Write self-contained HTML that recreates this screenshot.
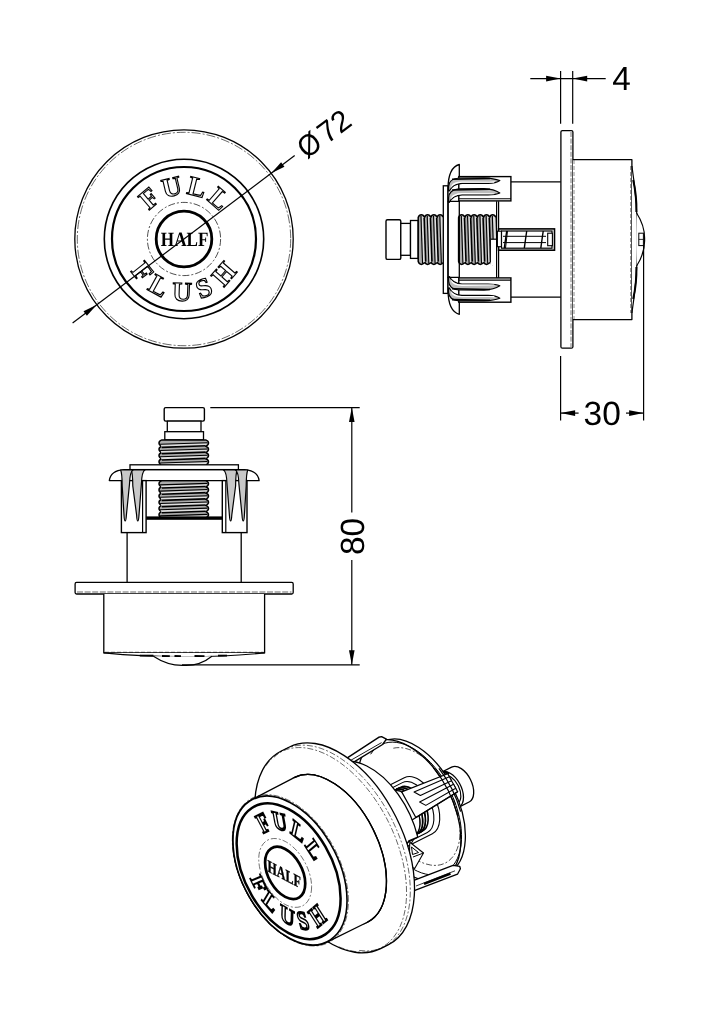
<!DOCTYPE html>
<html><head><meta charset="utf-8"><title>Flush button drawing</title>
<style>
html,body{margin:0;padding:0;background:#fff;}
svg{display:block;filter:grayscale(1);}
text{font-family:"Liberation Sans",sans-serif;text-rendering:geometricPrecision;}
.ser{font-family:"Liberation Serif",serif;}
</style></head><body>
<svg width="724" height="1024" viewBox="0 0 724 1024">
<rect x="0" y="0" width="724" height="1024" fill="#fff"/>
<circle cx="184.00" cy="239.00" r="109.20" fill="none" stroke="#000" stroke-width="1.3" />
<circle cx="184.00" cy="239.00" r="106.70" fill="none" stroke="#000" stroke-width="0.6" stroke-dasharray="9 2 2 2"/>
<circle cx="184.00" cy="239.00" r="79.70" fill="none" stroke="#000" stroke-width="1.6" />
<circle cx="184.00" cy="239.00" r="72.00" fill="none" stroke="#000" stroke-width="2.2" />
<circle cx="184.00" cy="239.00" r="36.60" fill="none" stroke="#000" stroke-width="0.7" stroke-dasharray="7 2 2 2"/>
<circle cx="184.00" cy="239.00" r="27.80" fill="none" stroke="#000" stroke-width="2.8" />
<text class="ser" x="184.0" y="194.5" font-size="27.2" text-anchor="middle" transform="rotate(-40.5 184.0 239.0)" fill="#fff" stroke="#000" stroke-width="1.15" font-weight="bold">F</text>
<text class="ser" x="184.0" y="194.5" font-size="27.2" text-anchor="middle" transform="rotate(-13.4 184.0 239.0)" fill="#fff" stroke="#000" stroke-width="1.15" font-weight="bold">U</text>
<text class="ser" x="184.0" y="194.5" font-size="27.2" text-anchor="middle" transform="rotate(13.9 184.0 239.0)" fill="#fff" stroke="#000" stroke-width="1.15" font-weight="bold">L</text>
<text class="ser" x="184.0" y="194.5" font-size="27.2" text-anchor="middle" transform="rotate(41.0 184.0 239.0)" fill="#fff" stroke="#000" stroke-width="1.15" font-weight="bold">L</text>
<text class="ser" x="184.0" y="301.0" font-size="27.2" text-anchor="middle" transform="rotate(51.5 184.0 239.0)" fill="#fff" stroke="#000" stroke-width="1.15" font-weight="bold">F</text>
<text class="ser" x="184.0" y="301.0" font-size="27.2" text-anchor="middle" transform="rotate(28.5 184.0 239.0)" fill="#fff" stroke="#000" stroke-width="1.15" font-weight="bold">L</text>
<text class="ser" x="184.0" y="301.0" font-size="27.2" text-anchor="middle" transform="rotate(2.0 184.0 239.0)" fill="#fff" stroke="#000" stroke-width="1.15" font-weight="bold">U</text>
<text class="ser" x="184.0" y="301.0" font-size="27.2" text-anchor="middle" transform="rotate(-22.0 184.0 239.0)" fill="#fff" stroke="#000" stroke-width="1.15" font-weight="bold">S</text>
<text class="ser" x="184.0" y="301.0" font-size="27.2" text-anchor="middle" transform="rotate(-49.0 184.0 239.0)" fill="#fff" stroke="#000" stroke-width="1.15" font-weight="bold">H</text>
<text class="ser" x="184.6" y="246.2" font-size="20.4" font-weight="bold" text-anchor="middle" textLength="47.5" lengthAdjust="spacingAndGlyphs" fill="#000">HALF</text>
<line x1="72.60" y1="322.96" x2="294.70" y2="155.57" stroke="#000" stroke-width="1.2" />
<polygon points="96.80,304.73 86.90,315.69 83.53,311.22" fill="#000"/>
<polygon points="271.20,173.27 281.10,162.31 284.47,166.78" fill="#000"/>
<g transform="translate(306.8 159.6) rotate(-37.01)"><text x="0" y="0" font-size="30" transform="scale(0.93 1)">Ø</text><text x="25.2" y="0" font-size="30">72</text></g>
<line x1="511.00" y1="181.90" x2="560.90" y2="181.90" stroke="#000" stroke-width="1.25" />
<line x1="511.00" y1="297.00" x2="560.90" y2="297.00" stroke="#000" stroke-width="1.25" />
<rect x="560.90" y="130.60" width="12.00" height="217.60" rx="1.5" fill="#fff" stroke="#000" stroke-width="1.3" />
<line x1="571.00" y1="132.00" x2="571.00" y2="347.00" stroke="#000" stroke-width="0.55" stroke-dasharray="5 1.6"/>
<path d="M572.9,159.7 L631.9,159.7 L631.9,319.6 L572.9,319.6" fill="#fff" stroke="#000" stroke-width="1.3" stroke-linejoin="round" />
<line x1="574.00" y1="160.00" x2="574.00" y2="319.00" stroke="#000" stroke-width="0.45" stroke-dasharray="4 2"/>
<line x1="630.60" y1="166.00" x2="630.60" y2="313.00" stroke="#000" stroke-width="0.45" stroke-dasharray="4 2"/>
<path d="M631.9,166 Q637.6,203 637.4,239.4 Q637.6,276 631.9,313" fill="#fff" stroke="#000" stroke-width="1.2" stroke-linejoin="round" />
<path d="M633.2,180 Q636.8,196 636.4,212" fill="none" stroke="#000" stroke-width="2.0" stroke-linejoin="round" />
<path d="M633.2,299 Q636.8,283 636.4,267" fill="none" stroke="#000" stroke-width="2.0" stroke-linejoin="round" />
<path d="M636.6,213 Q645,226 644.6,239.4 Q645,253 636.6,266" fill="#fff" stroke="#000" stroke-width="1.2" stroke-linejoin="round" />
<rect x="638.80" y="233.20" width="4.60" height="12.40" rx="0" fill="#fff" stroke="#000" stroke-width="1.0" />
<line x1="638.80" y1="239.40" x2="643.40" y2="239.40" stroke="#000" stroke-width="0.8" />
<rect x="386.00" y="219.70" width="14.80" height="39.70" rx="1.5" fill="#fff" stroke="#000" stroke-width="1.4" />
<rect x="400.80" y="223.40" width="9.70" height="31.90" rx="0" fill="#fff" stroke="#000" stroke-width="1.3" />
<rect x="410.50" y="220.50" width="7.70" height="37.90" rx="0" fill="#fff" stroke="#000" stroke-width="1.3" />
<path d="M418.20,217.60 Q419.14,214.80 421.34,214.80 Q423.53,214.80 424.48,217.60 Q425.42,214.80 427.61,214.80 Q429.81,214.80 430.75,217.60 Q431.69,214.80 433.89,214.80 Q436.08,214.80 437.02,217.60 Q437.97,214.80 440.16,214.80 Q442.36,214.80 443.30,217.60 L443.30,261.60 Q442.36,264.40 440.16,264.40 Q437.97,264.40 437.02,261.60 Q436.08,264.40 433.89,264.40 Q431.69,264.40 430.75,261.60 Q429.81,264.40 427.61,264.40 Q425.42,264.40 424.48,261.60 Q423.53,264.40 421.34,264.40 Q419.14,264.40 418.20,261.60 Z" fill="#ababab" stroke="#000" stroke-width="1.5" stroke-linejoin="round" />
<path d="M421.65,216.40 L424.16,217.40 L425.36,261.80 L422.85,262.80 Z" fill="#dedede"/>
<line x1="420.98" y1="215.90" x2="422.54" y2="263.30" stroke="#000" stroke-width="1.1" />
<path d="M427.93,216.40 L430.44,217.40 L431.64,261.80 L429.13,262.80 Z" fill="#dedede"/>
<line x1="424.12" y1="217.60" x2="425.68" y2="261.60" stroke="#000" stroke-width="1.6" />
<line x1="427.25" y1="215.90" x2="428.81" y2="263.30" stroke="#000" stroke-width="1.1" />
<path d="M434.20,216.40 L436.71,217.40 L437.91,261.80 L435.40,262.80 Z" fill="#dedede"/>
<line x1="430.39" y1="217.60" x2="431.95" y2="261.60" stroke="#000" stroke-width="1.6" />
<line x1="433.53" y1="215.90" x2="435.09" y2="263.30" stroke="#000" stroke-width="1.1" />
<path d="M440.48,216.40 L442.99,217.40 L444.19,261.80 L441.68,262.80 Z" fill="#dedede"/>
<line x1="436.66" y1="217.60" x2="438.22" y2="261.60" stroke="#000" stroke-width="1.6" />
<line x1="439.80" y1="215.90" x2="441.36" y2="263.30" stroke="#000" stroke-width="1.1" />
<path d="M458.60,217.60 Q459.53,214.80 461.70,214.80 Q463.87,214.80 464.80,217.60 Q465.73,214.80 467.90,214.80 Q470.07,214.80 471.00,217.60 Q471.93,214.80 474.10,214.80 Q476.27,214.80 477.20,217.60 Q478.13,214.80 480.30,214.80 Q482.47,214.80 483.40,217.60 Q484.33,214.80 486.50,214.80 Q488.67,214.80 489.60,217.60 Q490.53,214.80 492.70,214.80 Q494.87,214.80 495.80,217.60 L495.80,261.60 Q494.87,264.40 492.70,264.40 Q490.53,264.40 489.60,261.60 Q488.67,264.40 486.50,264.40 Q484.33,264.40 483.40,261.60 Q482.47,264.40 480.30,264.40 Q478.13,264.40 477.20,261.60 Q476.27,264.40 474.10,264.40 Q471.93,264.40 471.00,261.60 Q470.07,264.40 467.90,264.40 Q465.73,264.40 464.80,261.60 Q463.87,264.40 461.70,264.40 Q459.53,264.40 458.60,261.60 Z" fill="#ababab" stroke="#000" stroke-width="1.5" stroke-linejoin="round" />
<path d="M462.01,216.40 L464.49,217.40 L465.69,261.80 L463.21,262.80 Z" fill="#dedede"/>
<line x1="461.34" y1="215.90" x2="462.90" y2="263.30" stroke="#000" stroke-width="1.1" />
<path d="M468.21,216.40 L470.69,217.40 L471.89,261.80 L469.41,262.80 Z" fill="#dedede"/>
<line x1="464.44" y1="217.60" x2="466.00" y2="261.60" stroke="#000" stroke-width="1.6" />
<line x1="467.54" y1="215.90" x2="469.10" y2="263.30" stroke="#000" stroke-width="1.1" />
<path d="M474.41,216.40 L476.89,217.40 L478.09,261.80 L475.61,262.80 Z" fill="#dedede"/>
<line x1="470.64" y1="217.60" x2="472.20" y2="261.60" stroke="#000" stroke-width="1.6" />
<line x1="473.74" y1="215.90" x2="475.30" y2="263.30" stroke="#000" stroke-width="1.1" />
<path d="M480.61,216.40 L483.09,217.40 L484.29,261.80 L481.81,262.80 Z" fill="#dedede"/>
<line x1="476.84" y1="217.60" x2="478.40" y2="261.60" stroke="#000" stroke-width="1.6" />
<line x1="479.94" y1="215.90" x2="481.50" y2="263.30" stroke="#000" stroke-width="1.1" />
<path d="M486.81,216.40 L489.29,217.40 L490.49,261.80 L488.01,262.80 Z" fill="#dedede"/>
<line x1="483.04" y1="217.60" x2="484.60" y2="261.60" stroke="#000" stroke-width="1.6" />
<line x1="486.14" y1="215.90" x2="487.70" y2="263.30" stroke="#000" stroke-width="1.1" />
<path d="M493.01,216.40 L495.49,217.40 L496.69,261.80 L494.21,262.80 Z" fill="#dedede"/>
<line x1="489.24" y1="217.60" x2="490.80" y2="261.60" stroke="#000" stroke-width="1.6" />
<line x1="492.34" y1="215.90" x2="493.90" y2="263.30" stroke="#000" stroke-width="1.1" />
<rect x="490.3" y="239.2" width="7" height="26" fill="#fff"/>
<line x1="490.30" y1="239.20" x2="496.40" y2="239.20" stroke="#000" stroke-width="1.2" />
<line x1="490.30" y1="239.20" x2="490.30" y2="262.50" stroke="#000" stroke-width="1.2" />
<line x1="496.60" y1="201.30" x2="496.60" y2="278.00" stroke="#000" stroke-width="1.2" />
<line x1="498.60" y1="201.30" x2="498.60" y2="278.00" stroke="#000" stroke-width="1.2" />
<rect x="498.60" y="228.90" width="55.90" height="21.30" rx="0" fill="#fff" stroke="#000" stroke-width="1.6" />
<rect x="501.50" y="231.00" width="50.50" height="17.20" rx="0" fill="#fff" stroke="#000" stroke-width="1.2" />
<line x1="503.00" y1="236.30" x2="546.00" y2="236.30" stroke="#000" stroke-width="1.0" />
<line x1="503.00" y1="242.60" x2="546.00" y2="242.60" stroke="#000" stroke-width="1.0" />
<line x1="506.70" y1="231.00" x2="504.30" y2="248.20" stroke="#000" stroke-width="1.4" />
<line x1="526.70" y1="231.00" x2="524.30" y2="248.20" stroke="#000" stroke-width="1.4" />
<line x1="543.20" y1="231.00" x2="540.80" y2="248.20" stroke="#000" stroke-width="1.4" />
<line x1="507.50" y1="231.00" x2="505.50" y2="248.20" stroke="#000" stroke-width="1.0" />
<rect x="547.70" y="233.20" width="4.70" height="12.50" rx="0" fill="#fff" stroke="#000" stroke-width="1.1" />
<rect x="497.40" y="231.20" width="4.00" height="15.50" rx="0" fill="#fff" stroke="#000" stroke-width="1.1" />
<rect x="443.30" y="185.80" width="4.70" height="107.60" rx="0" fill="#fff" stroke="#000" stroke-width="1.3" />
<path d="M459.3,164.50 Q448.2,167.50 448.0,188.50 L448.0,201.40 L459.3,201.40 Z" fill="#fff" stroke="#000" stroke-width="1.3" stroke-linejoin="round" />
<path d="M459.3,314.30 Q448.2,311.30 448.0,290.30 L448.0,277.40 L459.3,277.40 Z" fill="#fff" stroke="#000" stroke-width="1.3" stroke-linejoin="round" />
<line x1="448.00" y1="201.30" x2="448.00" y2="278.00" stroke="#000" stroke-width="1.3" />
<line x1="459.30" y1="201.30" x2="459.30" y2="278.00" stroke="#000" stroke-width="1.3" />
<rect x="458.80" y="176.60" width="52.10" height="24.30" rx="0" fill="#fff" stroke="#000" stroke-width="1.4" />
<line x1="458.80" y1="198.70" x2="510.90" y2="198.70" stroke="#000" stroke-width="1.1" />
<path d="M448.6,186.40 Q449.0,178.80 458.8,178.00 L484,177.90 Q494,178.40 499.8,180.60 Q496,183.40 488,183.40 L462,183.40 Q452.5,184.00 449.4,190.90 L448.6,190.90 Z" fill="#bdbdbd" stroke="#000" stroke-width="1.2" stroke-linejoin="round" />
<path d="M451.5,185.40 Q453.5,181.80 462,181.50 L489,181.80 L495,181.20 L494,182.80 L462,182.80 Q454,183.20 451.0,187.90 Z" fill="#fff" stroke="none"/>
<line x1="452.00" y1="179.20" x2="490.00" y2="178.50" stroke="#000" stroke-width="1.6" />
<path d="M448.6,197.80 Q449.0,189.60 458.8,188.80 L484,188.70 Q494,189.20 499.8,193.00 Q496,194.80 488,194.80 L462,194.80 Q452.5,195.40 449.4,202.30 L448.6,202.30 Z" fill="#bdbdbd" stroke="#000" stroke-width="1.2" stroke-linejoin="round" />
<path d="M451.5,196.80 Q453.5,193.20 462,192.90 L489,193.20 L495,193.60 L494,194.20 L462,194.20 Q454,194.60 451.0,199.30 Z" fill="#fff" stroke="none"/>
<line x1="452.00" y1="190.00" x2="490.00" y2="189.30" stroke="#000" stroke-width="1.6" />
<g transform="translate(0 478.8) scale(1 -1)">
<rect x="458.80" y="176.60" width="52.10" height="24.30" rx="0" fill="#fff" stroke="#000" stroke-width="1.4" />
<line x1="458.80" y1="198.70" x2="510.90" y2="198.70" stroke="#000" stroke-width="1.1" />
<path d="M448.6,186.40 Q449.0,178.80 458.8,178.00 L484,177.90 Q494,178.40 499.8,180.60 Q496,183.40 488,183.40 L462,183.40 Q452.5,184.00 449.4,190.90 L448.6,190.90 Z" fill="#bdbdbd" stroke="#000" stroke-width="1.2" stroke-linejoin="round" />
<path d="M451.5,185.40 Q453.5,181.80 462,181.50 L489,181.80 L495,181.20 L494,182.80 L462,182.80 Q454,183.20 451.0,187.90 Z" fill="#fff" stroke="none"/>
<line x1="452.00" y1="179.20" x2="490.00" y2="178.50" stroke="#000" stroke-width="1.6" />
<path d="M448.6,197.80 Q449.0,189.60 458.8,188.80 L484,188.70 Q494,189.20 499.8,193.00 Q496,194.80 488,194.80 L462,194.80 Q452.5,195.40 449.4,202.30 L448.6,202.30 Z" fill="#bdbdbd" stroke="#000" stroke-width="1.2" stroke-linejoin="round" />
<path d="M451.5,196.80 Q453.5,193.20 462,192.90 L489,193.20 L495,193.60 L494,194.20 L462,194.20 Q454,194.60 451.0,199.30 Z" fill="#fff" stroke="none"/>
<line x1="452.00" y1="190.00" x2="490.00" y2="189.30" stroke="#000" stroke-width="1.6" />
</g>
<line x1="560.60" y1="71.00" x2="560.60" y2="123.80" stroke="#000" stroke-width="1.2" />
<line x1="572.70" y1="71.00" x2="572.70" y2="123.80" stroke="#000" stroke-width="1.2" />
<line x1="530.30" y1="78.60" x2="572.70" y2="78.60" stroke="#000" stroke-width="1.2" />
<line x1="572.70" y1="78.60" x2="605.70" y2="78.60" stroke="#000" stroke-width="1.2" />
<polygon points="560.60,78.60 546.10,81.40 546.10,75.80" fill="#000"/>
<polygon points="572.70,78.60 587.20,75.80 587.20,81.40" fill="#000"/>
<text x="612.2" y="89.9" font-size="33.3">4</text>
<line x1="560.60" y1="356.00" x2="560.60" y2="420.60" stroke="#000" stroke-width="1.2" />
<line x1="643.60" y1="245.00" x2="643.60" y2="420.60" stroke="#000" stroke-width="1.2" />
<line x1="560.60" y1="413.10" x2="578.60" y2="413.10" stroke="#000" stroke-width="1.2" />
<line x1="626.00" y1="413.10" x2="643.60" y2="413.10" stroke="#000" stroke-width="1.2" />
<polygon points="560.60,413.10 575.10,410.30 575.10,415.90" fill="#000"/>
<polygon points="643.60,413.10 629.10,415.90 629.10,410.30" fill="#000"/>
<text x="602.2" y="424.5" font-size="33.5" text-anchor="middle">30</text>
<rect x="164.20" y="407.60" width="40.20" height="13.50" rx="1.5" fill="#fff" stroke="#000" stroke-width="1.4" />
<rect x="167.30" y="421.10" width="33.70" height="10.60" rx="0" fill="#fff" stroke="#000" stroke-width="1.3" />
<rect x="164.80" y="431.70" width="38.70" height="8.20" rx="0" fill="#fff" stroke="#000" stroke-width="1.3" />
<path d="M205.70,439.90 Q208.50,440.84 208.50,443.04 Q208.50,445.23 205.70,446.17 Q208.50,447.12 208.50,449.31 Q208.50,451.51 205.70,452.45 Q208.50,453.39 208.50,455.59 Q208.50,457.78 205.70,458.73 Q208.50,459.67 208.50,461.86 Q208.50,464.06 205.70,465.00 L161.80,465.00 Q159.00,464.06 159.00,461.86 Q159.00,459.67 161.80,458.73 Q159.00,457.78 159.00,455.59 Q159.00,453.39 161.80,452.45 Q159.00,451.51 159.00,449.31 Q159.00,447.12 161.80,446.17 Q159.00,445.23 159.00,443.04 Q159.00,440.84 161.80,439.90 Z" fill="#ababab" stroke="#000" stroke-width="1.5" stroke-linejoin="round" />
<path d="M160.60,444.55 L161.60,447.06 L205.90,445.86 L206.90,443.35 Z" fill="#dedede"/>
<line x1="160.10" y1="444.24" x2="207.40" y2="442.68" stroke="#000" stroke-width="1.1" />
<path d="M160.60,450.83 L161.60,453.34 L205.90,452.14 L206.90,449.63 Z" fill="#dedede"/>
<line x1="161.80" y1="447.37" x2="205.70" y2="445.81" stroke="#000" stroke-width="1.6" />
<line x1="160.10" y1="450.51" x2="207.40" y2="448.95" stroke="#000" stroke-width="1.1" />
<path d="M160.60,457.10 L161.60,459.61 L205.90,458.41 L206.90,455.90 Z" fill="#dedede"/>
<line x1="161.80" y1="453.65" x2="205.70" y2="452.09" stroke="#000" stroke-width="1.6" />
<line x1="160.10" y1="456.79" x2="207.40" y2="455.23" stroke="#000" stroke-width="1.1" />
<path d="M160.60,463.38 L161.60,465.89 L205.90,464.69 L206.90,462.18 Z" fill="#dedede"/>
<line x1="161.80" y1="459.93" x2="205.70" y2="458.37" stroke="#000" stroke-width="1.6" />
<line x1="160.10" y1="463.06" x2="207.40" y2="461.50" stroke="#000" stroke-width="1.1" />
<line x1="127.10" y1="532.60" x2="127.10" y2="582.40" stroke="#000" stroke-width="1.3" />
<line x1="241.20" y1="532.60" x2="241.20" y2="582.40" stroke="#000" stroke-width="1.3" />
<path d="M205.70,480.60 Q208.50,481.53 208.50,483.70 Q208.50,485.87 205.70,486.80 Q208.50,487.73 208.50,489.90 Q208.50,492.07 205.70,493.00 Q208.50,493.93 208.50,496.10 Q208.50,498.27 205.70,499.20 Q208.50,500.13 208.50,502.30 Q208.50,504.47 205.70,505.40 Q208.50,506.33 208.50,508.50 Q208.50,510.67 205.70,511.60 Q208.50,512.53 208.50,514.70 Q208.50,516.87 205.70,517.80 L161.80,517.80 Q159.00,516.87 159.00,514.70 Q159.00,512.53 161.80,511.60 Q159.00,510.67 159.00,508.50 Q159.00,506.33 161.80,505.40 Q159.00,504.47 159.00,502.30 Q159.00,500.13 161.80,499.20 Q159.00,498.27 159.00,496.10 Q159.00,493.93 161.80,493.00 Q159.00,492.07 159.00,489.90 Q159.00,487.73 161.80,486.80 Q159.00,485.87 159.00,483.70 Q159.00,481.53 161.80,480.60 Z" fill="#ababab" stroke="#000" stroke-width="1.5" stroke-linejoin="round" />
<path d="M160.60,485.21 L161.60,487.69 L205.90,486.49 L206.90,484.01 Z" fill="#dedede"/>
<line x1="160.10" y1="484.90" x2="207.40" y2="483.34" stroke="#000" stroke-width="1.1" />
<path d="M160.60,491.41 L161.60,493.89 L205.90,492.69 L206.90,490.21 Z" fill="#dedede"/>
<line x1="161.80" y1="488.00" x2="205.70" y2="486.44" stroke="#000" stroke-width="1.6" />
<line x1="160.10" y1="491.10" x2="207.40" y2="489.54" stroke="#000" stroke-width="1.1" />
<path d="M160.60,497.61 L161.60,500.09 L205.90,498.89 L206.90,496.41 Z" fill="#dedede"/>
<line x1="161.80" y1="494.20" x2="205.70" y2="492.64" stroke="#000" stroke-width="1.6" />
<line x1="160.10" y1="497.30" x2="207.40" y2="495.74" stroke="#000" stroke-width="1.1" />
<path d="M160.60,503.81 L161.60,506.29 L205.90,505.09 L206.90,502.61 Z" fill="#dedede"/>
<line x1="161.80" y1="500.40" x2="205.70" y2="498.84" stroke="#000" stroke-width="1.6" />
<line x1="160.10" y1="503.50" x2="207.40" y2="501.94" stroke="#000" stroke-width="1.1" />
<path d="M160.60,510.01 L161.60,512.49 L205.90,511.29 L206.90,508.81 Z" fill="#dedede"/>
<line x1="161.80" y1="506.60" x2="205.70" y2="505.04" stroke="#000" stroke-width="1.6" />
<line x1="160.10" y1="509.70" x2="207.40" y2="508.14" stroke="#000" stroke-width="1.1" />
<path d="M160.60,516.21 L161.60,518.69 L205.90,517.49 L206.90,515.01 Z" fill="#dedede"/>
<line x1="161.80" y1="512.80" x2="205.70" y2="511.24" stroke="#000" stroke-width="1.6" />
<line x1="160.10" y1="515.90" x2="207.40" y2="514.34" stroke="#000" stroke-width="1.1" />
<rect x="146.1" y="516.4" width="76.2" height="3.4" fill="#000"/>
<path d="M109.3,480.6 Q110.5,470.6 124,469.6 L244.4,469.6 Q257.9,470.6 259.1,480.6 Z" fill="#fff" stroke="#000" stroke-width="1.3" stroke-linejoin="round" />
<rect x="130.00" y="464.80" width="108.40" height="4.80" rx="0" fill="#fff" stroke="#000" stroke-width="1.3" />
<rect x="222.30" y="480.60" width="24.70" height="52.00" rx="0" fill="#fff" stroke="#000" stroke-width="1.4" />
<line x1="225.80" y1="480.60" x2="225.80" y2="532.60" stroke="#000" stroke-width="1.2" />
<path d="M223.40,470.0 Q226.60,471.5 227.00,484 L229.40,515 Q229.80,521 230.60,521 Q231.50,521 231.80,515 L235.60,486 Q235.70,473 237.20,470.0 Z" fill="#c8c8c8" stroke="#000" stroke-width="1.2" stroke-linejoin="round" />
<path d="M235.30,470.0 Q238.50,471.5 238.90,484 L242.00,515 Q242.40,521 243.20,521 Q244.10,521 244.40,515 L246.20,486 Q246.30,473 247.80,470.0 Z" fill="#c8c8c8" stroke="#000" stroke-width="1.2" stroke-linejoin="round" />
<g transform="translate(368.4 0) scale(-1 1)">
<rect x="222.30" y="480.60" width="24.70" height="52.00" rx="0" fill="#fff" stroke="#000" stroke-width="1.4" />
<line x1="225.80" y1="480.60" x2="225.80" y2="532.60" stroke="#000" stroke-width="1.2" />
<path d="M223.40,470.0 Q226.60,471.5 227.00,484 L229.40,515 Q229.80,521 230.60,521 Q231.50,521 231.80,515 L235.60,486 Q235.70,473 237.20,470.0 Z" fill="#c8c8c8" stroke="#000" stroke-width="1.2" stroke-linejoin="round" />
<path d="M235.30,470.0 Q238.50,471.5 238.90,484 L242.00,515 Q242.40,521 243.20,521 Q244.10,521 244.40,515 L246.20,486 Q246.30,473 247.80,470.0 Z" fill="#c8c8c8" stroke="#000" stroke-width="1.2" stroke-linejoin="round" />
</g>
<rect x="75.10" y="582.40" width="218.10" height="11.60" rx="1.5" fill="#fff" stroke="#000" stroke-width="1.3" />
<line x1="77.00" y1="592.00" x2="291.50" y2="592.00" stroke="#000" stroke-width="0.6" stroke-dasharray="6 1.6"/>
<path d="M103.8,594.0 L103.8,652.9 L264.6,652.9 L264.6,594.0" fill="#fff" stroke="#000" stroke-width="1.3" stroke-linejoin="round" />
<path d="M103.8,652.9 Q145,656.9 184.2,656.6 Q223,656.9 264.6,652.9" fill="#fff" stroke="#000" stroke-width="1.1" stroke-linejoin="round" />
<line x1="105.00" y1="652.20" x2="263.50" y2="652.20" stroke="#000" stroke-width="0.45" stroke-dasharray="4 2"/>
<path d="M153.4,656.3 Q168,666 184.2,665.4 Q200,666 211.9,656.3" fill="#fff" stroke="#000" stroke-width="1.2" stroke-linejoin="round" />
<line x1="139.80" y1="655.60" x2="153.40" y2="655.60" stroke="#000" stroke-width="1.8" />
<line x1="162.00" y1="656.00" x2="169.80" y2="656.20" stroke="#000" stroke-width="1.8" />
<line x1="174.50" y1="656.00" x2="181.00" y2="656.20" stroke="#000" stroke-width="1.8" />
<line x1="194.50" y1="656.00" x2="204.50" y2="656.20" stroke="#000" stroke-width="1.8" />
<line x1="218.00" y1="655.60" x2="227.00" y2="655.60" stroke="#000" stroke-width="1.8" />
<line x1="210.30" y1="407.60" x2="359.70" y2="407.60" stroke="#000" stroke-width="1.2" />
<line x1="182.00" y1="664.80" x2="359.70" y2="664.80" stroke="#000" stroke-width="1.2" />
<line x1="351.80" y1="407.60" x2="351.80" y2="512.60" stroke="#000" stroke-width="1.2" />
<line x1="351.80" y1="560.10" x2="351.80" y2="664.80" stroke="#000" stroke-width="1.2" />
<polygon points="351.80,407.60 354.60,422.10 349.00,422.10" fill="#000"/>
<polygon points="351.80,664.80 349.00,650.30 354.60,650.30" fill="#000"/>
<text x="0" y="0" font-size="33.5" text-anchor="middle" transform="translate(363.7 536.4) rotate(-90)">80</text>
<path d="M469.12,802.04 C471.79,800.70 473.43,797.56 473.67,793.34 C473.92,789.11 472.76,784.13 470.43,779.50 C468.11,774.87 464.82,770.96 461.29,768.64 C457.76,766.32 454.28,765.77 451.61,767.11 L441.39,772.27 C438.72,773.61 437.08,776.74 436.84,780.97 C436.59,785.20 437.75,790.18 440.08,794.81 C442.40,799.44 445.69,803.35 449.22,805.67 C452.75,807.99 456.23,808.54 458.90,807.19 Z" fill="#fff" stroke="#000" stroke-width="1.3" stroke-linejoin="round" />
<path d="M463.49,797.35 C463.49,792.97 462.09,787.97 459.59,783.44 C457.08,778.92 453.69,775.24 450.15,773.22 C446.61,771.19 443.21,770.99 440.71,772.66 C438.21,774.33 436.80,777.73 436.80,782.11 C436.80,786.49 438.21,791.49 440.71,796.02 C443.21,800.54 446.61,804.22 450.15,806.24 C453.69,808.26 457.08,808.46 459.59,806.80 C462.09,805.13 463.49,801.73 463.49,797.35 Z" fill="#fff" stroke="#000" stroke-width="1.3" stroke-linejoin="round" />
<path d="M449.06,773.77 C445.96,772.33 443.08,772.44 440.97,774.08 C438.87,775.72 437.70,778.77 437.70,782.62 C437.70,786.47 438.87,790.85 440.97,794.89 C443.08,798.93 445.96,802.34 449.06,804.45 " fill="none" stroke="#000" stroke-width="2.2" stroke-linejoin="round" />
<path d="M457.18,803.75 C459.33,802.67 460.64,800.16 460.84,796.76 C461.04,793.37 460.10,789.37 458.24,785.65 C456.37,781.93 453.73,778.79 450.90,776.93 C448.06,775.06 445.26,774.62 443.12,775.70 L436.42,779.08 C434.28,780.16 432.96,782.68 432.76,786.07 C432.57,789.47 433.50,793.46 435.37,797.18 C437.23,800.90 439.87,804.04 442.71,805.91 C445.54,807.77 448.34,808.21 450.49,807.13 Z" fill="#fff" stroke="#000" stroke-width="1.2" stroke-linejoin="round" />
<path d="M454.17,799.23 C454.17,795.71 453.05,791.69 451.03,788.06 C449.02,784.42 446.30,781.47 443.46,779.84 C440.61,778.22 437.89,778.06 435.88,779.40 C433.87,780.74 432.74,783.47 432.74,786.98 C432.74,790.50 433.87,794.52 435.88,798.15 C437.89,801.79 440.61,804.74 443.46,806.37 C446.30,807.99 449.02,808.15 451.03,806.81 C453.05,805.47 454.17,802.74 454.17,799.23 Z" fill="#fff" stroke="#000" stroke-width="1.2" stroke-linejoin="round" />
<path d="M451.85,809.84 C454.41,808.55 455.98,805.55 456.22,801.50 C456.45,797.45 455.34,792.68 453.11,788.24 C450.88,783.80 447.73,780.05 444.35,777.82 C440.96,775.60 437.62,775.07 435.06,776.36 L428.58,779.64 C426.02,780.93 424.45,783.93 424.21,787.98 C423.97,792.03 425.09,796.81 427.32,801.25 C429.54,805.69 432.69,809.43 436.08,811.66 C439.46,813.88 442.80,814.41 445.36,813.12 Z" fill="#fff" stroke="#000" stroke-width="1.2" stroke-linejoin="round" />
<path d="M449.76,803.68 C449.76,799.49 448.41,794.69 446.02,790.35 C443.62,786.01 440.36,782.49 436.97,780.55 C433.58,778.61 430.32,778.42 427.92,780.02 C425.53,781.61 424.18,784.87 424.18,789.07 C424.18,793.27 425.53,798.06 427.92,802.40 C430.32,806.74 433.58,810.27 436.97,812.20 C440.36,814.14 443.62,814.33 446.02,812.74 C448.41,811.14 449.76,807.88 449.76,803.68 Z" fill="#fff" stroke="#000" stroke-width="1.2" stroke-linejoin="round" />
<path d="M448.13,872.94 C458.16,867.88 464.32,856.11 465.25,840.23 C466.17,824.35 461.79,805.65 453.07,788.26 C444.35,770.86 432.00,756.18 418.73,747.46 C405.47,738.73 392.38,736.67 382.34,741.73 L378.55,743.65 C368.51,748.71 362.36,760.48 361.43,776.36 C360.50,792.24 364.88,810.94 373.60,828.33 C382.33,845.73 394.68,860.41 407.94,869.13 C421.21,877.86 434.30,879.92 444.33,874.86 Z" fill="#fff" stroke="#000" stroke-width="1.3" stroke-linejoin="round" />
<path d="M460.89,840.02 C460.89,823.02 455.43,803.61 445.72,786.04 C436.00,768.47 422.83,754.20 409.09,746.35 C395.36,738.50 382.18,737.73 372.47,744.20 C362.76,750.67 357.30,763.85 357.30,780.85 C357.30,797.85 362.76,817.26 372.47,834.83 C382.18,852.40 395.36,866.67 409.09,874.52 C422.83,882.37 436.00,883.14 445.72,876.67 C455.43,870.20 460.89,857.02 460.89,840.02 Z" fill="#fff" stroke="#000" stroke-width="1.3" stroke-linejoin="round" />
<path d="M408.57,866.22 C420.23,874.14 431.87,876.82 441.36,873.76 C450.85,870.70 457.56,862.11 460.26,849.56 C462.96,837.01 461.47,821.34 456.06,805.40 C450.66,789.47 441.70,774.34 430.82,762.78 C419.94,751.22 407.87,744.00 396.81,742.44 C385.76,740.88 376.45,745.08 370.60,754.28 " fill="none" stroke="#000" stroke-width="1.0" stroke-linejoin="round" />
<path d="M379.46,811.86 C384.45,825.40 392.27,838.09 401.60,847.79 C410.94,857.48 421.20,863.59 430.66,865.06 C440.11,866.53 448.18,863.28 453.49,855.86 C458.79,848.44 461.01,837.31 459.77,824.35 C458.53,811.39 453.91,797.41 446.68,784.78 C439.45,772.14 430.07,761.63 420.12,755.02 C410.17,748.42 400.27,746.13 392.10,748.54 " fill="none" stroke="#000" stroke-width="0.7" stroke-linejoin="round" stroke-dasharray="6 2 2 2"/>
<path d="M432.40,833.82 C436.69,831.66 439.33,826.63 439.72,819.84 C440.12,813.05 438.25,805.05 434.52,797.61 C430.79,790.17 425.51,783.90 419.84,780.17 C414.16,776.44 408.57,775.56 404.28,777.72 L379.44,790.25 C375.15,792.41 372.51,797.44 372.12,804.23 C371.72,811.03 373.59,819.02 377.32,826.46 C381.05,833.90 386.33,840.17 392.00,843.90 C397.68,847.64 403.27,848.52 407.56,846.35 Z" fill="#fff" stroke="#000" stroke-width="1.1" stroke-linejoin="round" />
<path d="M414.94,830.54 C414.94,823.51 412.68,815.47 408.66,808.20 C404.64,800.93 399.19,795.02 393.50,791.78 C387.81,788.53 382.36,788.21 378.34,790.89 C374.32,793.56 372.06,799.02 372.06,806.05 C372.06,813.09 374.32,821.13 378.34,828.40 C382.36,835.67 387.81,841.58 393.50,844.82 C399.19,848.07 404.64,848.39 408.66,845.71 C412.68,843.04 414.94,837.58 414.94,830.54 Z" fill="#fff" stroke="#000" stroke-width="1.1" stroke-linejoin="round" />
<path d="M427.37,832.40 C431.17,830.48 433.51,826.01 433.86,819.99 C434.21,813.97 432.55,806.87 429.24,800.27 C425.93,793.67 421.25,788.11 416.22,784.80 C411.19,781.49 406.22,780.71 402.41,782.63 L381.02,793.42 C377.22,795.34 374.88,799.80 374.53,805.82 C374.18,811.85 375.84,818.94 379.15,825.54 C382.46,832.14 387.14,837.70 392.17,841.01 C397.20,844.32 402.17,845.10 405.98,843.18 Z" fill="#fff" stroke="#000" stroke-width="1.1" stroke-linejoin="round" />
<path d="M412.52,829.16 C412.52,822.92 410.51,815.79 406.95,809.34 C403.38,802.89 398.54,797.65 393.50,794.77 C388.46,791.89 383.62,791.61 380.05,793.98 C376.49,796.36 374.48,801.20 374.48,807.44 C374.48,813.68 376.49,820.81 380.05,827.26 C383.62,833.71 388.46,838.95 393.50,841.83 C398.54,844.71 403.38,844.99 406.95,842.62 C410.51,840.24 412.52,835.40 412.52,829.16 Z" fill="#fff" stroke="#000" stroke-width="1.1" stroke-linejoin="round" />
<path d="M422.42,831.15 C425.77,829.46 427.82,825.53 428.13,820.23 C428.44,814.93 426.98,808.69 424.07,802.88 C421.16,797.07 417.03,792.18 412.61,789.26 C408.18,786.35 403.81,785.66 400.46,787.35 L397.70,788.75 C394.35,790.44 392.30,794.36 391.99,799.66 C391.68,804.97 393.14,811.21 396.05,817.01 C398.96,822.82 403.09,827.72 407.51,830.63 C411.94,833.54 416.31,834.23 419.66,832.54 Z" fill="#fff" stroke="#000" stroke-width="1.6" stroke-linejoin="round" />
<path d="M425.41,820.20 C425.41,814.71 423.65,808.44 420.51,802.76 C417.37,797.09 413.12,792.47 408.68,789.94 C404.24,787.40 399.99,787.15 396.85,789.24 C393.71,791.33 391.95,795.59 391.95,801.09 C391.95,806.58 393.71,812.85 396.85,818.53 C399.99,824.20 404.24,828.81 408.68,831.35 C413.12,833.88 417.37,834.13 420.51,832.04 C423.65,829.95 425.41,825.69 425.41,820.20 Z" fill="#fff" stroke="#000" stroke-width="1.6" stroke-linejoin="round" />
<path d="M419.66,832.54 C423.01,830.85 425.06,826.93 425.37,821.62 C425.68,816.32 424.22,810.08 421.31,804.27 C418.40,798.47 414.27,793.57 409.85,790.66 C405.42,787.74 401.05,787.06 397.70,788.75 L394.94,790.14 C391.59,791.83 389.54,795.75 389.23,801.06 C388.92,806.36 390.38,812.60 393.29,818.41 C396.20,824.21 400.33,829.11 404.75,832.02 C409.18,834.94 413.55,835.62 416.90,833.93 Z" fill="#fff" stroke="#000" stroke-width="1.6" stroke-linejoin="round" />
<path d="M422.65,821.60 C422.65,816.10 420.89,809.83 417.75,804.15 C414.61,798.48 410.36,793.87 405.92,791.33 C401.48,788.80 397.23,788.55 394.09,790.64 C390.95,792.73 389.19,796.99 389.19,802.48 C389.19,807.97 390.95,814.24 394.09,819.92 C397.23,825.59 401.48,830.21 405.92,832.74 C410.36,835.28 414.61,835.53 417.75,833.44 C420.89,831.35 422.65,827.09 422.65,821.60 Z" fill="#fff" stroke="#000" stroke-width="1.6" stroke-linejoin="round" />
<path d="M416.90,833.93 C420.25,832.24 422.30,828.32 422.61,823.02 C422.92,817.71 421.46,811.47 418.55,805.67 C415.64,799.86 411.51,794.96 407.09,792.05 C402.66,789.14 398.29,788.45 394.94,790.14 L392.18,791.53 C388.83,793.22 386.78,797.15 386.47,802.45 C386.16,807.75 387.62,813.99 390.53,819.80 C393.44,825.61 397.57,830.50 401.99,833.42 C406.42,836.33 410.79,837.02 414.14,835.33 Z" fill="#fff" stroke="#000" stroke-width="1.6" stroke-linejoin="round" />
<path d="M419.89,822.99 C419.89,817.50 418.13,811.22 414.99,805.55 C411.85,799.87 407.60,795.26 403.16,792.72 C398.72,790.19 394.47,789.94 391.33,792.03 C388.19,794.12 386.43,798.38 386.43,803.87 C386.43,809.36 388.19,815.63 391.33,821.31 C394.47,826.99 398.72,831.60 403.16,834.13 C407.60,836.67 411.85,836.92 414.99,834.83 C418.13,832.74 419.89,828.48 419.89,822.99 Z" fill="#fff" stroke="#000" stroke-width="1.6" stroke-linejoin="round" />
<path d="M414.14,835.33 C417.49,833.64 419.54,829.71 419.85,824.41 C420.16,819.11 418.70,812.87 415.79,807.06 C412.88,801.25 408.75,796.35 404.33,793.44 C399.90,790.53 395.53,789.84 392.18,791.53 L368.72,803.36 C365.37,805.05 363.32,808.98 363.01,814.28 C362.70,819.58 364.16,825.82 367.07,831.63 C369.98,837.44 374.11,842.34 378.53,845.25 C382.96,848.16 387.33,848.85 390.68,847.16 Z" fill="#fff" stroke="#000" stroke-width="1.1" stroke-linejoin="round" />
<path d="M396.43,834.82 C396.43,829.33 394.67,823.05 391.53,817.38 C388.39,811.70 384.14,807.09 379.70,804.55 C375.26,802.02 371.01,801.77 367.87,803.86 C364.73,805.95 362.97,810.21 362.97,815.70 C362.97,821.19 364.73,827.47 367.87,833.14 C371.01,838.82 375.26,843.43 379.70,845.97 C384.14,848.50 388.39,848.75 391.53,846.66 C394.67,844.57 396.43,840.31 396.43,834.82 Z" fill="#fff" stroke="#000" stroke-width="1.1" stroke-linejoin="round" />
<path d="M345.00,759.40 L378.70,737.30 L381.60,736.60 L386.40,739.20 L382.60,744.50 L350.00,764.40 Z" fill="#fff" stroke="#000" stroke-width="1.4" stroke-linejoin="round" />
<line x1="348.50" y1="761.60" x2="381.60" y2="742.60" stroke="#000" stroke-width="0.9" />
<path d="M408.00,882.60 L453.00,865.40 L459.70,866.30 L460.40,868.70 L457.50,874.20 L409.00,892.60 Z" fill="#fff" stroke="#000" stroke-width="1.3" stroke-linejoin="round" />
<line x1="424.00" y1="883.90" x2="450.50" y2="873.60" stroke="#000" stroke-width="2.6" />
<line x1="416.00" y1="886.00" x2="455.00" y2="870.80" stroke="#000" stroke-width="0.8" />
<path d="M417.77,837.06 C414.17,822.06 407.23,806.98 398.02,794.13 C388.82,781.29 377.85,771.39 366.81,765.96 C355.77,760.53 345.27,759.87 336.92,764.08 L305.87,779.74 C314.42,775.43 325.21,776.22 336.52,782.00 C347.83,787.78 359.00,798.20 368.23,811.58 C377.46,824.97 384.22,840.55 387.42,855.82 C390.61,871.09 390.06,885.15 385.86,895.76 C381.65,906.37 374.04,912.90 364.23,914.30 L408.8,840.8 Z" fill="#fff" stroke="#000" stroke-width="1.3" stroke-linejoin="round" />
<path d="M415.87,817.48 L401.69,791.84 L447.69,773.72 L457.62,791.67 Z" fill="#fff" stroke="#000" stroke-width="1.2" stroke-linejoin="round" />
<path d="M425.81,805.38 L419.63,801.98 L453.55,784.31 L455.73,788.26 Z" fill="#fff" stroke="#000" stroke-width="1.1" stroke-linejoin="round" />
<path d="M420.39,795.57 L414.06,791.92 L449.38,776.77 L451.56,780.72 Z" fill="#fff" stroke="#000" stroke-width="1.1" stroke-linejoin="round" />
<path d="M412.45,819.76 L415.87,817.48 L457.62,791.67 L454.19,793.95 Z" fill="#fff" stroke="#000" stroke-width="1.2" stroke-linejoin="round" />
<path d="M457.76,816.32 C453.39,798.94 444.71,781.63 433.41,767.74 " fill="none" stroke="#000" stroke-width="1.2" stroke-linejoin="round" />
<path d="M460.63,811.57 C456.39,796.13 448.74,780.89 438.92,768.26 " fill="none" stroke="#000" stroke-width="1.2" stroke-linejoin="round" />
<path d="M409.80,842.30 L423.50,853.00 L414.70,868.60 L409.00,866.00 Z" fill="#fff" stroke="#000" stroke-width="1.1" stroke-linejoin="round" />
<path d="M411.50,847.00 L418.50,852.50 L412.50,854.50 Z" fill="#fff" stroke="#000" stroke-width="1.0" stroke-linejoin="round" />
<line x1="413.00" y1="857.00" x2="423.50" y2="853.00" stroke="#000" stroke-width="1.0" />
<path d="M388.53,944.60 C403.64,936.98 412.92,919.26 414.32,895.34 C415.71,871.42 409.12,843.26 395.98,817.05 C382.84,790.84 364.24,768.74 344.26,755.60 C324.28,742.46 304.56,739.36 289.45,746.98 L280.80,751.26 C265.57,758.96 256.23,776.74 254.82,800.69 C253.41,824.64 260.06,852.81 273.30,878.98 C286.53,905.16 305.28,927.21 325.40,940.28 C345.53,953.35 365.39,956.37 380.62,948.67 Z" fill="#fff" stroke="#000" stroke-width="1.3" stroke-linejoin="round" />
<path d="M338.82,946.82 C356.13,954.34 372.29,953.94 384.56,945.67 C396.83,937.41 404.47,921.80 406.19,901.47 C407.91,881.14 403.60,857.33 393.99,834.07 C384.39,810.81 370.07,789.51 353.45,773.77 C336.84,758.03 318.94,748.81 302.79,747.67 C286.63,746.52 273.20,753.52 264.76,767.49 " fill="none" stroke="#000" stroke-width="0.6" stroke-linejoin="round" stroke-dasharray="6 2 2 2"/>
<path d="M359.19,950.44 C377.25,953.01 392.30,945.75 401.32,930.11 C410.35,914.47 412.69,891.61 407.87,866.09 C403.06,840.56 391.44,814.27 375.35,792.46 C359.26,770.64 339.88,754.92 321.08,748.43 C302.28,741.95 285.45,745.17 273.96,757.46 " fill="none" stroke="#000" stroke-width="0.6" stroke-linejoin="round" stroke-dasharray="6 2 2 2"/>
<path d="M361.06,924.53 C371.49,922.08 379.36,914.14 383.41,901.96 C387.45,889.79 387.45,874.08 383.41,857.35 C379.36,840.61 371.49,823.80 361.06,809.60 C350.64,795.40 338.24,784.62 325.85,778.97 C313.46,773.33 301.80,773.14 292.70,778.44 " fill="none" stroke="#000" stroke-width="1.3" stroke-linejoin="round" />
<path d="M367.27,922.28 C378.43,916.64 385.28,903.62 386.31,886.07 C387.34,868.52 382.47,847.89 372.77,828.71 C363.07,809.53 349.34,793.38 334.60,783.80 C319.85,774.23 305.30,772.02 294.15,777.66 L252.44,799.20 C240.98,805.05 233.94,818.17 232.88,835.68 C231.83,853.18 236.83,873.64 246.79,892.55 C256.75,911.46 270.86,927.27 286.01,936.51 C301.15,945.74 316.10,947.65 327.56,941.80 Z" fill="#fff" stroke="#000" stroke-width="1.3" stroke-linejoin="round" />
<path d="M367.27,922.28 C378.43,916.64 385.28,903.62 386.31,886.07 C387.34,868.52 382.47,847.89 372.77,828.71 C363.07,809.53 349.34,793.38 334.60,783.80 C319.85,774.23 305.30,772.02 294.15,777.66 " fill="none" stroke="#000" stroke-width="1.3" stroke-linejoin="round" />
<path d="M347.04,900.52 C347.04,882.48 341.03,862.02 330.33,843.63 C319.64,825.24 305.13,810.44 290.00,802.48 C274.87,794.52 260.36,794.05 249.67,801.18 C238.97,808.30 232.96,822.44 232.96,840.48 C232.96,858.52 238.97,878.98 249.67,897.37 C260.36,915.76 274.87,930.56 290.00,938.52 C305.13,946.48 319.64,946.95 330.33,939.82 C341.03,932.70 347.04,918.56 347.04,900.52 Z" fill="#fff" stroke="#000" stroke-width="1.6" stroke-linejoin="round" />
<path d="M348.38,900.89 C348.38,882.53 342.26,861.70 331.38,842.99 C320.50,824.28 305.74,809.21 290.35,801.10 C274.95,793.00 260.19,792.52 249.31,799.77 C238.43,807.02 232.31,821.41 232.31,839.77 C232.31,858.12 238.43,878.95 249.31,897.66 C260.19,916.38 274.95,931.44 290.35,939.55 C305.74,947.65 320.50,948.13 331.38,940.88 C342.26,933.63 348.38,919.25 348.38,900.89 Z" fill="none" stroke="#000" stroke-width="0.6" stroke-linejoin="round" stroke-dasharray="6 2 2 2"/>
<g transform="matrix(0.722 0.38 -0.0 0.861 288.62 871.20)">
<circle r="72" fill="none" stroke="#000" stroke-width="2.5" vector-effect="non-scaling-stroke"/>
<text class="ser" x="0" y="-44.5" font-size="28" font-weight="bold" text-anchor="middle" transform="rotate(-40.5)" fill="#fff" stroke="#000" stroke-width="2.0">F</text>
<text class="ser" x="0" y="-44.5" font-size="28" font-weight="bold" text-anchor="middle" transform="rotate(-13.4)" fill="#fff" stroke="#000" stroke-width="2.0">U</text>
<text class="ser" x="0" y="-44.5" font-size="28" font-weight="bold" text-anchor="middle" transform="rotate(13.9)" fill="#fff" stroke="#000" stroke-width="2.0">L</text>
<text class="ser" x="0" y="-44.5" font-size="28" font-weight="bold" text-anchor="middle" transform="rotate(41.0)" fill="#fff" stroke="#000" stroke-width="2.0">L</text>
<text class="ser" x="0" y="62" font-size="28" font-weight="bold" text-anchor="middle" transform="rotate(51.5)" fill="#fff" stroke="#000" stroke-width="2.0">F</text>
<text class="ser" x="0" y="62" font-size="28" font-weight="bold" text-anchor="middle" transform="rotate(28.5)" fill="#fff" stroke="#000" stroke-width="2.0">L</text>
<text class="ser" x="0" y="62" font-size="28" font-weight="bold" text-anchor="middle" transform="rotate(2.0)" fill="#fff" stroke="#000" stroke-width="2.0">U</text>
<text class="ser" x="0" y="62" font-size="28" font-weight="bold" text-anchor="middle" transform="rotate(-22.0)" fill="#fff" stroke="#000" stroke-width="2.0">S</text>
<text class="ser" x="0" y="62" font-size="28" font-weight="bold" text-anchor="middle" transform="rotate(-49.0)" fill="#fff" stroke="#000" stroke-width="2.0">H</text>
</g>
<g transform="matrix(0.722 0.38 -0.0 0.861 285.17 872.94)">
<circle r="36.6" fill="none" stroke="#333" stroke-width="0.7" stroke-dasharray="6 2 2 2" vector-effect="non-scaling-stroke"/>
<circle r="27.8" fill="none" stroke="#000" stroke-width="2.7" vector-effect="non-scaling-stroke"/>
<text class="ser" x="-1.5" y="8.8" font-size="20" font-weight="bold" text-anchor="middle" textLength="46" lengthAdjust="spacingAndGlyphs" fill="#000" stroke="#000" stroke-width="0.5">HALF</text>
</g>
</svg>
</body></html>
